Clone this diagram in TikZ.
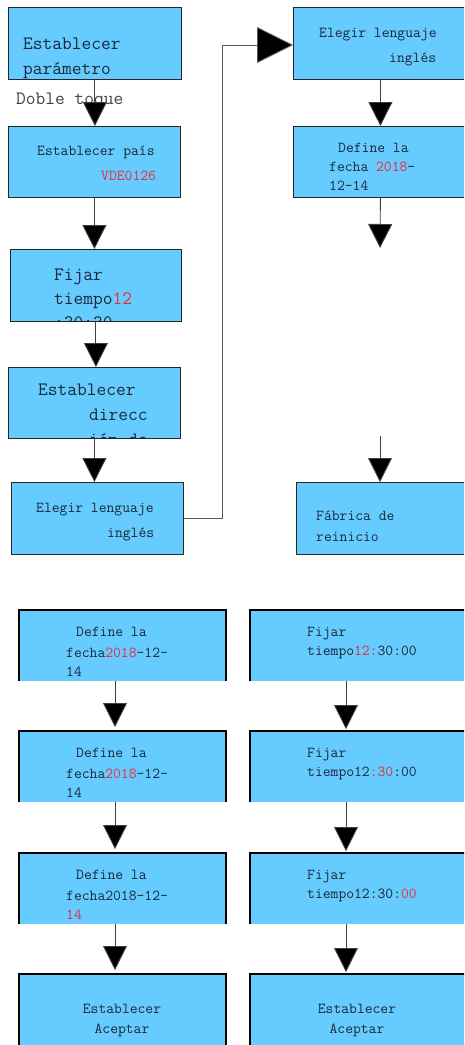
\documentclass[tikz,border=0pt]{standalone}
\usepackage{fontspec}
\usepackage{xcolor}
\usepackage{tikz}
\usetikzlibrary{positioning, calc, arrows.meta}
\definecolor{boxblue}{RGB}{102,204,255}
\definecolor{txtdark}{RGB}{25,40,55}
\definecolor{txtred}{RGB}{230,45,60}
\newcommand{\redtxt}[1]{\textcolor{txtred}{#1}}

\begin{document}
\begin{tikzpicture}[
    x=1pt, y=-1pt,
    stepbox/.style={rectangle, draw=black!85, line width=0.8pt, fill=boxblue, anchor=north west, inner sep=0pt},
    openbox/.style={rectangle, fill=boxblue, anchor=north west, inner sep=0pt},
    frame_line/.style={line width=2pt, black},
    flow_arrow/.style={-{Triangle[length=24pt, width=24pt, fill=black]}, line width=0.9pt, draw=black!75},
    big_arrow/.style={-{Triangle[length=36pt, width=36pt, fill=black]}, line width=0.9pt, draw=black!65},
    label_style/.style={anchor=base west, inner sep=0pt, text=txtdark, font=\ttfamily\fontsize{15.2}{18}\selectfont},
    big_label/.style={label_style, font=\ttfamily\fontsize{18.9}{22}\selectfont}
]
    \clip (0,0) rectangle (464,1045);

    % Columna izquierda
    \node[stepbox, minimum width=173, minimum height=72] (param) at (8,7) {};
    \node[big_label] (param_t1) at (23,49) {Establecer};
    \node[big_label] (param_t2) at (23,74) {parámetro};
    \node[big_label, text=black!75] (toque) at (16,104) {Doble toque};

    \node[stepbox, minimum width=172, minimum height=71] (pais) at (8,126) {};
    \node[label_style] (pais_t1) at (37,155) {Establecer país};
    \node[label_style] (pais_t2) at (101,180) {\redtxt{VDE0126}};

    \node[stepbox, minimum width=171, minimum height=72] (tiempo) at (10,249) {};
    \begin{scope}
        \clip (tiempo.north west) rectangle (tiempo.south east);
        \node[big_label] (tiempo_t1) at (54,280) {Fijar};
        \node[big_label] (tiempo_t2) at (54,304) {tiempo\redtxt{12}};
        \node[big_label] (tiempo_t3) at (54,328) {:30:30};
    \end{scope}

    \node[stepbox, minimum width=172, minimum height=71] (direccion) at (8,367) {};
    \begin{scope}
        \clip (direccion.north west) rectangle (direccion.south east);
        \node[big_label] (direccion_t1) at (38,395) {Establecer};
        \node[big_label] (direccion_t2) at (89,420) {direcc};
        \node[big_label] (direccion_t3) at (89,445) {ión de};
    \end{scope}

    \node[stepbox, minimum width=172, minimum height=72] (idioma) at (11,482) {};
    \node[label_style] (idioma_t1) at (36,512) {Elegir lenguaje};
    \node[label_style] (idioma_t2) at (107,537) {inglés};

    % Columna derecha
    \node[stepbox, minimum width=174, minimum height=72] (idiomaB) at (293,7) {};
    \node[label_style] (idiomaB_t1) at (319,37) {Elegir lenguaje};
    \node[label_style] (idiomaB_t2) at (389,62) {inglés};

    \node[stepbox, minimum width=174, minimum height=71] (fechaT) at (293,126) {};
    \node[label_style] (fechaT_t1) at (338,152) {Define la};
    \node[label_style] (fechaT_t2) at (329,171) {fecha \redtxt{2018}-};
    \node[label_style] (fechaT_t3) at (329,190) {12-14};

    \node[stepbox, minimum width=170, minimum height=72] (reinicio) at (296,482) {};
    \node[label_style] (reinicio_t1) at (316,520) {Fábrica de};
    \node[label_style] (reinicio_t2) at (316,541) {reinicio};

    % Flechas superiores
    \draw[flow_arrow] (param.south) -- (param.south |- pais.north);
    \draw[flow_arrow] (pais.south) -- (pais.south |- tiempo.north);
    \draw[flow_arrow] (tiempo.south) -- (tiempo.south |- direccion.north);
    \draw[flow_arrow] (direccion.south) -- (direccion.south |- idioma.north);

    \coordinate (bend) at (222,45);
    \draw[big_arrow] (idioma.east) -| (bend) -- (bend -| idiomaB.west);

    \draw[flow_arrow] (idiomaB.south) -- (idiomaB.south |- fechaT.north);
    \coordinate (gap_top) at (380,248);
    \coordinate (gap_bot) at (380,436);
    \draw[flow_arrow] (fechaT.south) -- (gap_top);
    \draw[flow_arrow] (gap_bot) -- (gap_bot |- reinicio.north);

    % Fecha
    \node[openbox, minimum width=207, minimum height=71] (fechaA) at (19,610) {};
    \draw[frame_line] (fechaA.south west) -- (fechaA.north west) -- (fechaA.north east) -- (fechaA.south east);
    \node[label_style] (fechaA_t1) at (76,636) {Define la};
    \node[label_style] (fechaA_t2) at (66,657) {fecha\redtxt{2018}-12-};
    \node[label_style] (fechaA_t3) at (66,676) {14};

    \node[openbox, minimum width=207, minimum height=71] (fechaB) at (19,731) {};
    \draw[frame_line] (fechaB.south west) -- (fechaB.north west) -- (fechaB.north east) -- (fechaB.south east);
    \node[label_style] (fechaB_t1) at (76,757) {Define la};
    \node[label_style] (fechaB_t2) at (66,778) {fecha\redtxt{2018}-12-};
    \node[label_style] (fechaB_t3) at (66,797) {14};

    \node[openbox, minimum width=207, minimum height=71] (fechaC) at (19,853) {};
    \draw[frame_line] (fechaC.south west) -- (fechaC.north west) -- (fechaC.north east) -- (fechaC.south east);
    \node[label_style] (fechaC_t1) at (76,879) {Define la};
    \node[label_style] (fechaC_t2) at (66,900) {fecha2018-12-};
    \node[label_style] (fechaC_t3) at (66,919) {\redtxt{14}};

    \node[openbox, minimum width=207, minimum height=80] (aceptarA) at (19,974) {};
    \draw[frame_line] (aceptarA.south west) -- (aceptarA.north west) -- (aceptarA.north east) -- (aceptarA.south east);
    \node[label_style, anchor=base] (aceptarA_t1) at (122,1013) {Establecer};
    \node[label_style, anchor=base] (aceptarA_t2) at (122,1033) {Aceptar};

    % Hora
    \node[openbox, minimum width=220, minimum height=71] (horaA) at (250,610) {};
    \draw[frame_line] (horaA.south west) -- (horaA.north west) -- (horaA.north east);
    \node[label_style] (horaA_t1) at (307,636) {Fijar};
    \node[label_style] (horaA_t2) at (307,655) {tiempo\redtxt{12:}30:00};

    \node[openbox, minimum width=220, minimum height=71] (horaB) at (250,731) {};
    \draw[frame_line] (horaB.south west) -- (horaB.north west) -- (horaB.north east);
    \node[label_style] (horaB_t1) at (307,757) {Fijar};
    \node[label_style] (horaB_t2) at (307,776) {tiempo12\redtxt{:30}:00};

    \node[openbox, minimum width=220, minimum height=71] (horaC) at (250,853) {};
    \draw[frame_line] (horaC.south west) -- (horaC.north west) -- (horaC.north east);
    \node[label_style] (horaC_t1) at (307,879) {Fijar};
    \node[label_style] (horaC_t2) at (307,898) {tiempo12:30:\redtxt{00}};

    \node[openbox, minimum width=220, minimum height=80] (aceptarB) at (250,974) {};
    \draw[frame_line] (aceptarB.south west) -- (aceptarB.north west) -- (aceptarB.north east);
    \node[label_style, anchor=base] (aceptarB_t1) at (357,1013) {Establecer};
    \node[label_style, anchor=base] (aceptarB_t2) at (357,1033) {Aceptar};

    % Flechas inferiores
    \draw[flow_arrow, shorten >=4pt] ($(fechaA.south west)+(96,0)$) -- ($(fechaB.north west)+(96,0)$);
    \draw[flow_arrow, shorten >=4pt] ($(fechaB.south west)+(96,0)$) -- ($(fechaC.north west)+(96,0)$);
    \draw[flow_arrow, shorten >=4pt] ($(fechaC.south west)+(96,0)$) -- ($(aceptarA.north west)+(96,0)$);
    \draw[flow_arrow, shorten >=2pt] ($(horaA.south west)+(96,0)$) -- ($(horaB.north west)+(96,0)$);
    \draw[flow_arrow, shorten >=2pt] ($(horaB.south west)+(96,0)$) -- ($(horaC.north west)+(96,0)$);
    \draw[flow_arrow, shorten >=2pt] ($(horaC.south west)+(96,0)$) -- ($(aceptarB.north west)+(96,0)$);
\end{tikzpicture}
\end{document}
